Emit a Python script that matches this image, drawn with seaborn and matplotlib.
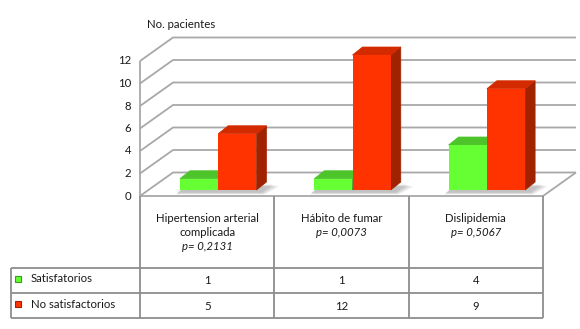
import matplotlib
matplotlib.use("Agg")
import matplotlib.pyplot as plt
from matplotlib.patches import Polygon
from matplotlib.lines import Line2D
from matplotlib.transforms import IdentityTransform
import numpy as np
import pandas as pd
import seaborn as sns

# ---- data ----
categories = ["Hipertension arterial", "Hábito de fumar", "Dislipidemia"]
category_lines = [["Hipertension arterial", "complicada"], ["Hábito de fumar"], ["Dislipidemia"]]
p_values = ["p= 0,2131", "p= 0,0073", "p= 0,5067"]
series = ["Satisfatorios", "No satisfactorios"]
satisfactorios = [1, 1, 4]
no_satisfactorios = [5, 12, 9]
yticks = [0, 2, 4, 6, 8, 10, 12]
y_title = "No. pacientes"

# ---- style ----
sns.set_theme(style="white")
plt.rcParams["font.family"] = ["Lato", "DejaVu Sans"]

GREEN = "#66FF33"
GREEN_TOP = "#4CC42A"
GREEN_SIDE = "#3A9A20"
RED = "#FF3300"
RED_TOP = "#D42A00"
RED_SIDE = "#A02200"
GRID = "#A8A8A8"
TABLE = "#8E8E8E"
TXT = "#1A1A1A"
FS = 8.2

W, H = 580, 329
fig = plt.figure(figsize=(W / 100, H / 100), dpi=100)
fig.patch.set_facecolor("white")

# axes spanning the plane of the bars' front faces
ax = fig.add_axes([151 / W, (H - 190) / H, 403 / W, 135 / H])
df = pd.DataFrame({
    "categoria": categories * 2,
    "serie": [series[0]] * len(categories) + [series[1]] * len(categories),
    "n": satisfactorios + no_satisfactorios,
})
sns.barplot(data=df, x="categoria", y="n", hue="serie", order=categories,
            hue_order=series, palette=[GREEN, RED], width=0.57, saturation=1,
            legend=False, errorbar=None, ax=ax, zorder=1,
            edgecolor="none")
ax.set_xlim(-0.5, 2.5)
ax.set_ylim(0, 12)
ax.axis("off")

ID = IdentityTransform()
FRONT_OFF = np.array([-11.0, -6.0])   # chart front plane relative to bar plane
DEPTH = np.array([33.0, 23.5])        # depth of the floor / side wall
BAR_DEPTH = np.array([10.0, 8.0])     # depth of each bar


def bar_px(x, v):
    return ax.transData.transform((x, v))


def front(x, v):
    return bar_px(x, v) + FRONT_OFF


def back(x, v):
    return front(x, v) + DEPTH


def line(pts, color=GRID, lw=1.3, z=0.5):
    pts = np.array(pts)
    ax.add_line(Line2D(pts[:, 0], pts[:, 1], color=color, lw=lw,
                       transform=ID, clip_on=False, zorder=z,
                       solid_capstyle="butt"))


# side wall, back wall grid and floor
for v in yticks:
    line([front(-0.5, v), back(-0.5, v), back(2.5, v)])
line([front(-0.5, 0), front(-0.5, 12)])
line([front(-0.5, 0), front(2.5, 0), back(2.5, 0)])

# soft shadows on the floor below each bar pair
for i in range(len(categories)):
    x0, x1 = i - 0.285, i + 0.285
    for k, a in zip(range(4), [0.10, 0.10, 0.10, 0.10]):
        g = 4 - k
        p0 = bar_px(x0, 0) + np.array([-2 - g * 0.5, -2 - g * 0.6])
        p1 = bar_px(x1, 0) + np.array([g + 4, -2 - g * 0.6])
        p2 = p1 + BAR_DEPTH + np.array([g * 1.2, 0])
        p3 = p0 + BAR_DEPTH
        ax.add_patch(Polygon([p0, p1, p2, p3], closed=True, facecolor="#555555",
                             edgecolor="none", alpha=a, transform=ID,
                             clip_on=False, zorder=0.6))

# tops and sides of the bars
for patch in ax.patches:
    if not hasattr(patch, "get_width") or patch.get_transform() is ID:
        continue
    x0, w, h = patch.get_x(), patch.get_width(), patch.get_height()
    if h <= 0:
        continue
    fc = patch.get_facecolor()
    is_green = fc[1] > 0.9
    top_c = GREEN_TOP if is_green else RED_TOP
    side_c = GREEN_SIDE if is_green else RED_SIDE
    tl, tr, br = bar_px(x0, h), bar_px(x0 + w, h), bar_px(x0 + w, 0)
    ax.add_patch(Polygon([br, tr, tr + BAR_DEPTH, br + BAR_DEPTH], closed=True,
                         facecolor=side_c, edgecolor=side_c, lw=0.5,
                         transform=ID, clip_on=False, zorder=0.9))
    ax.add_patch(Polygon([tl, tr, tr + BAR_DEPTH, tl + BAR_DEPTH], closed=True,
                         facecolor=top_c, edgecolor=top_c, lw=0.5,
                         transform=ID, clip_on=False, zorder=0.9))

# y tick labels and title
for v in yticks:
    px = front(-0.5, v)
    fig.text(px[0] - 9, px[1], str(v), transform=ID, ha="right", va="center",
             fontsize=FS, color=TXT)
fig.text(181, H - 25, y_title, transform=ID, ha="center", va="center",
         fontsize=FS, color=TXT)

# data table under the chart
ROW_TOP, ROW_MID, ROW_BOT = H - 268, H - 293, H - 318
LEFT = 11
col_x = [front(x, 0)[0] for x in (-0.5, 0.5, 1.5, 2.5)]
floor_y = front(-0.5, 0)[1]
for cx in col_x:
    line([(cx, floor_y), (cx, ROW_BOT)], color=TABLE, lw=1.3, z=2)
line([(LEFT, ROW_TOP), (LEFT, ROW_BOT)], color=TABLE, lw=1.3, z=2)
for yy in (ROW_TOP, ROW_MID, ROW_BOT):
    line([(LEFT, yy), (col_x[-1], yy)], color=TABLE, lw=1.3, z=2)

for i in range(len(categories)):
    cx = front(i, 0)[0]
    y = H - 219
    for ln in category_lines[i]:
        fig.text(cx, y, ln, transform=ID, ha="center", va="center",
                 fontsize=FS, color=TXT)
        y -= 13.5
    fig.text(cx, y, p_values[i], transform=ID, ha="center", va="center",
             fontsize=FS, color=TXT, style="italic")
    fig.text(cx, (ROW_TOP + ROW_MID) / 2 - 0.5, str(satisfactorios[i]),
             transform=ID, ha="center", va="center", fontsize=FS, color=TXT)
    fig.text(cx, (ROW_MID + ROW_BOT) / 2 - 0.5, str(no_satisfactorios[i]),
             transform=ID, ha="center", va="center", fontsize=FS, color=TXT)

# legend keys inside the table
for (name, col, edge), yc in zip([(series[0], GREEN, "#3A9A20"),
                                  (series[1], RED, "#A02200")],
                                 [(ROW_TOP + ROW_MID) / 2 + 1.5,
                                  (ROW_MID + ROW_BOT) / 2 + 1.5]):
    ax.add_patch(Polygon([(15, yc - 3), (21, yc - 3), (21, yc + 3), (15, yc + 3)],
                         closed=True, facecolor=col, edgecolor=edge, lw=0.8,
                         transform=ID, clip_on=False, zorder=3))
    fig.text(31, yc, name, transform=ID, ha="left", va="center",
             fontsize=FS, color=TXT)

fig.savefig("out.png", dpi=100, facecolor="white")
